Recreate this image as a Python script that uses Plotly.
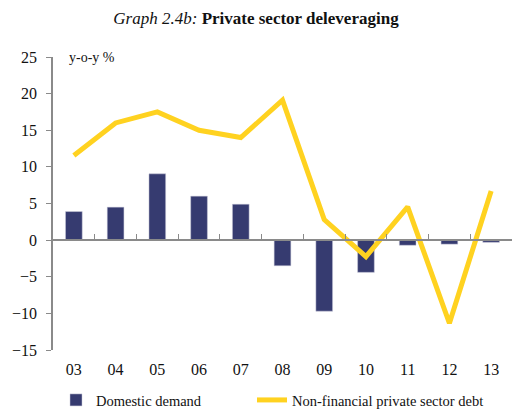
import plotly.graph_objects as go

categories = ["03", "04", "05", "06", "07", "08", "09", "10", "11", "12", "13"]
domestic_demand = [3.9, 4.5, 9.05, 6.0, 4.9, -3.5, -9.7, -4.4, -0.7, -0.55, -0.3]
private_debt = [11.55, 16.0, 17.5, 15.0, 14.0, 19.1, 2.8, -2.25, 4.55, -11.35, 6.7]
y_ticks = [-15, -10, -5, 0, 5, 10, 15, 20, 25]

FONT = "Liberation Serif"
AXIS_GRAY = "#8a8a8a"

fig = go.Figure()
fig.add_trace(go.Bar(
    x=categories, y=domestic_demand, name="Domestic demand",
    marker=dict(color="#363B70", line=dict(color="#c8c8d8", width=0.5)),
    width=0.4, xaxis="x", yaxis="y", legend="legend",
))
fig.add_trace(go.Scatter(
    x=categories, y=private_debt, name="Non-financial private sector debt",
    mode="lines", line=dict(color="#FFD220", width=5),
    xaxis="x2", yaxis="y", legend="legend2",
))

legend_common = dict(
    orientation="h", xref="container", yref="container",
    xanchor="left", y=1 - 400 / 409, yanchor="middle",
    font=dict(family=FONT, size=14.5, color="#111111"), bgcolor="rgba(0,0,0,0)",
)

fig.update_layout(
    width=512, height=409,
    margin=dict(l=53, r=0, t=57, b=59),
    paper_bgcolor="white", plot_bgcolor="white",
    font=dict(family=FONT, color="#111111", size=16),
    title=dict(
        text="<i>Graph 2.4b:</i> <b>Private sector deleveraging</b>",
        x=0.5, xanchor="center", y=1 - 18 / 409, yanchor="middle",
        font=dict(family=FONT, size=17, color="#111111"),
    ),
    xaxis=dict(
        type="category", range=[-0.5, 10.5], automargin=False,
        showline=False, showgrid=False, zeroline=False, ticks="",
        ticklabelstandoff=8,
        tickfont=dict(family=FONT, size=16),
    ),
    xaxis2=dict(
        type="category", matches="x", overlaying="x", automargin=False,
        anchor="free", position=15 / 40, side="bottom",
        showline=True, linecolor=AXIS_GRAY, linewidth=1.5,
        ticks="inside", tickson="boundaries", ticklen=5, tickcolor=AXIS_GRAY,
        showticklabels=False, showgrid=False, zeroline=False,
    ),
    yaxis=dict(
        range=[-15, 25], tickvals=y_ticks, automargin=False,
        showline=True, linecolor=AXIS_GRAY, linewidth=1.5,
        ticks="outside", ticklen=5, tickcolor=AXIS_GRAY,
        ticklabelstandoff=6,
        showgrid=False, zeroline=False,
        tickfont=dict(family=FONT, size=16),
    ),
    legend=dict(x=56 / 512, **legend_common),
    legend2=dict(x=252 / 512, **legend_common),
    showlegend=True,
)

fig.add_annotation(
    text="y-o-y %", xref="paper", yref="paper", x=14 / 459, y=1,
    xanchor="left", yanchor="middle", showarrow=False,
    font=dict(family=FONT, size=14, color="#111111"),
)

fig.write_html(
    "out.html",
    config={"displayModeBar": False},
    post_script="document.body.style.margin='0';document.body.style.overflow='hidden';",
)
